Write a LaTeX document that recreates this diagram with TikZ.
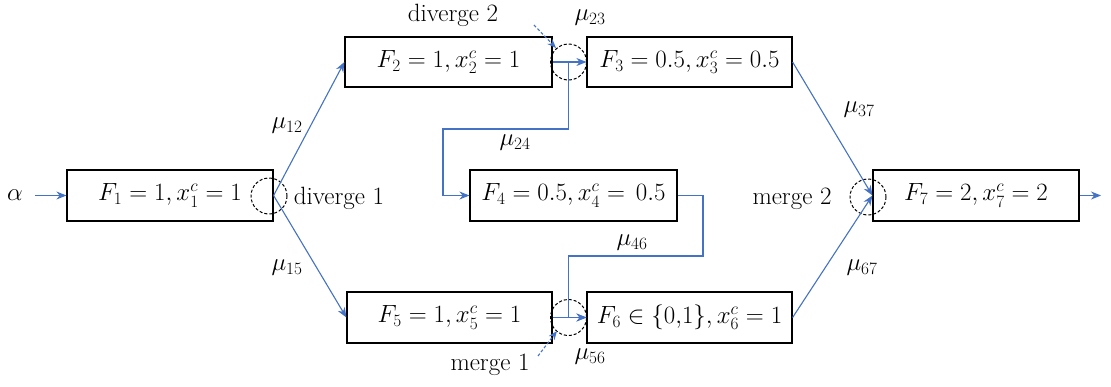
\documentclass[tikz,border=0pt]{standalone}
\usetikzlibrary{arrows.meta}
\definecolor{flowblue}{RGB}{68,114,196}
\begin{document}
\begin{tikzpicture}[x=1pt,y=-1pt,
  every node/.style={font=\fontsize{25}{30}\selectfont},
  blk/.style={draw=black,line width=1.2pt,minimum height=51pt,inner sep=0pt},
  flow/.style={draw=flowblue,line width=1.1pt},
  arr/.style={flow,-{Stealth[length=10pt,width=8pt]}},
  dasharr/.style={draw=flowblue,line width=1.1pt,dash pattern=on 3pt off 2pt,-{Stealth[length=9pt,width=7pt,fill=flowblue]}},
  ring/.style={draw=black,line width=1pt,dash pattern=on 3pt off 2pt,circle,minimum size=36pt,inner sep=0pt},
  lbl/.style={inner sep=1pt}]
\useasboundingbox (0,0) rectangle (1111,386);
% boxes
\node[blk,minimum width=206pt] (F1) at (170,195.5) {$F_1=1, x_1^c=1$};
\node[blk,minimum width=207pt,minimum height=50pt] (F2) at (448.5,62) {$F_2=1, x_2^c=1$};
\node[blk,minimum width=205pt,minimum height=50pt] (F3) at (689.5,62) {$F_3=0.5, x_3^c=0.5$};
\node[blk,minimum width=207pt] (F4) at (573.5,195.5) {$F_4=0.5, x_4^c=\,0.5$};
\node[blk,minimum width=205pt] (F5) at (449.5,317.5) {$F_5=1, x_5^c=1$};
\node[blk,minimum width=205pt] (F6) at (689.5,317.5) {$F_6\in\{0{,}1\}, x_6^c=1$};
\node[blk,minimum width=206pt] (F7) at (976,195.5) {$F_7=2, x_7^c=2$};
% dashed circles
\node[ring] (c1) at (269,196) {};
\node[ring] (c2) at (568.5,62) {};
\node[ring] (c3) at (568.5,317.5) {};
\node[ring] (c4) at (868,197) {};
% labels
\node[lbl] (alpha) at (15,195) {$\alpha$};
\node[lbl] (d1) at (339,198) {diverge 1};
\node[lbl] (d2) at (453,15) {diverge 2};
\node[lbl] (m1) at (490,365) {merge 1};
\node[lbl] (m2) at (792,199) {merge 2};
\node[lbl] (l12) at (287,126) {$\mu_{12}$};
\node[lbl] (l15) at (287,268) {$\mu_{15}$};
\node[lbl] (l23) at (590,18) {$\mu_{23}$};
\node[lbl] (l24) at (515,143) {$\mu_{24}$};
\node[lbl] (l37) at (859,110) {$\mu_{37}$};
\node[lbl] (l46) at (632,243) {$\mu_{46}$};
\node[lbl] (l56) at (590,357) {$\mu_{56}$};
\node[lbl] (l67) at (862,268) {$\mu_{67}$};
% coordinates
\coordinate (a0) at (35,195.5);
\coordinate (b1) at (568.5,129);
\coordinate (b2) at (443,129);
\coordinate (b3) at (703,256);
\coordinate (out) at (1101,195.5);
\coordinate (d2s) at (534,25);
\coordinate (d2e) at (556,48);
\coordinate (m1s) at (538,356);
\coordinate (m1e) at (557,331);
% connectors
\draw[arr] (a0) -- (F1.west);
\draw[arr] (F1.east) -- (F2.west);
\draw[arr] (F1.east) -- (F5.west);
\draw[arr] (F2.east) -- (F3.west);
\draw[arr] (c2.center) -- (b1) -- (b2) |- (F4.west);
\draw[arr] (F4.east) -| (b3) -| (c3.center) -- (F6.west);
\draw[arr] (F5.east) -- (F6.west);
\draw[arr] (F3.east) -- (F7.west);
\draw[arr] (F6.east) -- (F7.west);
\draw[arr] (F7.east) -- (out);
\draw[dasharr] (d2s) -- (d2e);
\draw[dasharr] (m1s) -- (m1e);
\end{tikzpicture}
\end{document}
